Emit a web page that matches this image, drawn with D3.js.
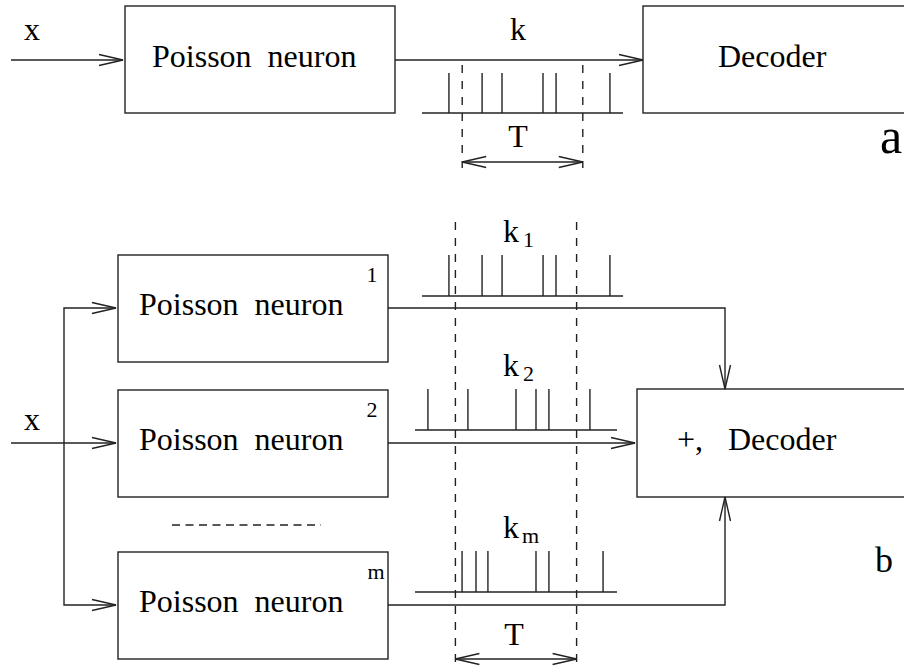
<!DOCTYPE html>
<html>
<head>
<meta charset="utf-8">
<script src="https://cdn.jsdelivr.net/npm/d3@7"></script>
</head>
<body style="margin:0">
<svg width="904" height="668" id="chart"></svg>
<script>
// Spike times (arbitrary time units, 0..100 spans a spike-train axis)
const spikesA = [13.4, 29.9, 39.8, 60.2, 66.7, 93.5];
const windowT = [20, 80]; // counting window T
const spikes1 = [16.8, 33.2, 43.1, 63.4, 69.8, 96.5];
const spikes2 = [6.4, 26.2, 50.0, 59.9, 66.3, 86.6];
const spikesM = [23.3, 30.2, 36.1, 59.9, 66.3, 93.1];
const trainExtents = [[3.5, 103], [0, 100], [0, 100]];
const neuronIds = ["1", "2", "m"];

const stroke = "#222";
const svg = d3.select("#chart");

const g = svg.append("g")
  .attr("fill", "none")
  .attr("stroke", stroke)
  .attr("stroke-width", 1.4);

const line = d3.line();

function path(pts, dash) {
  const p = g.append("path").attr("d", line(pts));
  if (dash) p.attr("stroke-dasharray", dash);
  return p;
}

// open chevron arrowhead with its tip at (x, y); dir = "r", "l", "d", "u"
function head(x, y, dir, len = 24, w = 5.5) {
  const pts = {
    r: [[x - len, y - w], [x, y], [x - len, y + w]],
    l: [[x + len, y - w], [x, y], [x + len, y + w]],
    d: [[x - w, y - len], [x, y], [x + w, y - len]],
    u: [[x - w, y + len], [x, y], [x + w, y + len]]
  }[dir];
  path(pts);
}

function box(x0, y0, x1, y1) {
  g.append("rect").attr("x", x0).attr("y", y0).attr("width", x1 - x0).attr("height", y1 - y0);
}

function label(x, y, txt, size = 32, anchor = "start") {
  svg.append("text").attr("x", x).attr("y", y)
    .style("font-family", '"Liberation Serif"')
    .attr("font-size", size).attr("text-anchor", anchor).text(txt);
}

function train(scale, extent, spikes, yBase, h) {
  path([[scale(extent[0]), yBase], [scale(extent[1]), yBase]]);
  spikes.forEach(t => path([[scale(t), yBase], [scale(t), yBase - h]]));
}

// ---------- panel a ----------
const xA = d3.scaleLinear().domain([0, 100]).range([422, 623]);

label(24, 40, "x");
path([[11, 60], [123, 60]]);
head(123, 60, "r");
box(125, 6, 395, 113);
label(152, 67, "Poisson\u00a0 neuron");

path([[395, 60], [643, 60]]);
head(643, 60, "r");
label(510, 40, "k");
box(643, 6, 920, 113);
label(718, 67, "Decoder");

train(xA, [0, 100], spikesA, 113, 40);
windowT.forEach(t => path([[xA(t), 65], [xA(t), 168]], "8,8"));
path([[xA(windowT[0]), 162], [xA(windowT[1]), 162]]);
head(xA(windowT[0]), 162, "l");
head(xA(windowT[1]), 162, "r");
label(518, 147, "T", 32, "middle");
label(891, 153, "a", 50, "middle");

// ---------- panel b ----------
const xB = d3.scaleLinear().domain([0, 100]).range([415, 617]);
const boxTops = [255, 390, 552];
const boxH = 107;
const boxMid = boxTops.map(t => t + 53);
const trains = [spikes1, spikes2, spikesM];
const trainBase = [296, 430, 592];

// input fan-out
label(24, 430, "x");
path([[11, 443], [116, 443]]);
path([[116, boxMid[0]], [64, boxMid[0]], [64, boxMid[2]], [116, boxMid[2]]]);

boxTops.forEach((top, i) => {
  box(118, top, 388, top + boxH);
  head(116, boxMid[i], "r");
  label(139, boxMid[i] + 7, "Poisson\u00a0 neuron");
  label(i === 2 ? 376 : 372, top + 27, neuronIds[i], 22, "middle");
  train(xB, trainExtents[i], trains[i], trainBase[i], 41);
  label(503, trainBase[i] - 54, "k");
  label(i === 2 ? 522 : 523, trainBase[i] - 49, neuronIds[i], 22);
});

path([[172, 525], [321, 525]], "8,5.5");

// decoder and its inputs
box(637, 389, 920, 497);
label(677, 450, "+,");
label(728, 450, "Decoder");
path([[388, boxMid[0]], [725, boxMid[0]], [725, 389]]);
head(725, 389, "d");
path([[388, boxMid[1]], [635, boxMid[1]]]);
head(635, boxMid[1], "r");
path([[388, boxMid[2]], [725, boxMid[2]], [725, 497]]);
head(725, 497, "u");

windowT.forEach(t => path([[xB(t), 222], [xB(t), 668]], "8,8"));
path([[xB(windowT[0]), 659], [xB(windowT[1]), 659]]);
head(xB(windowT[0]), 659, "l");
head(xB(windowT[1]), 659, "r");
label(514, 645, "T", 32, "middle");
label(884, 572, "b", 36, "middle");
</script>
</body>
</html>
